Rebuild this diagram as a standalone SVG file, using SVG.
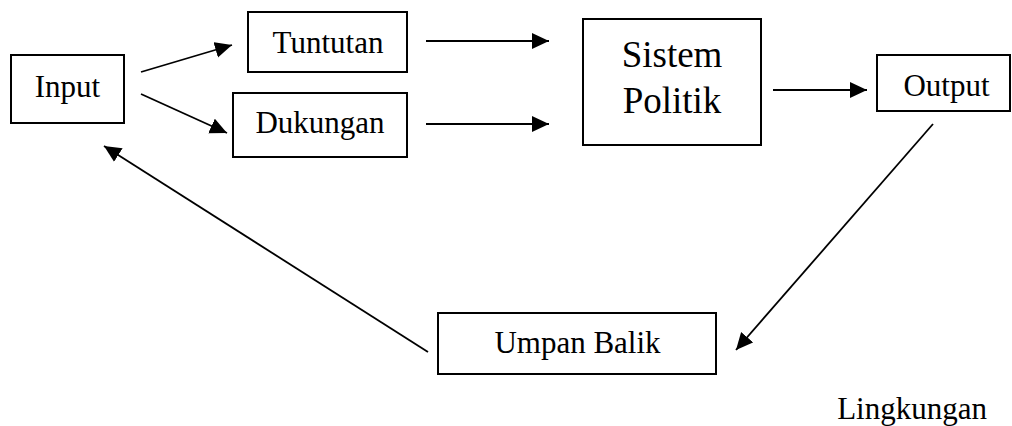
<svg xmlns="http://www.w3.org/2000/svg" width="1012" height="426" viewBox="0 0 1012 426">
<style>
.box{fill:#fff;stroke:#000;stroke-width:2}
.t{font-family:"Liberation Serif","Times New Roman",serif;font-size:31px;fill:#000;text-anchor:middle}
.big{font-size:37px}
.c{stroke:#000;stroke-width:1.8;fill:none;marker-end:url(#ah)}
</style>
<defs>
<marker id="ah" markerUnits="userSpaceOnUse" markerWidth="18" markerHeight="17" refX="17" refY="8" orient="auto" viewBox="0 0 18 17">
<path d="M0,0 L17,8 L0,16 Z" fill="#000"/>
</marker>
</defs>
<rect width="1012" height="426" fill="#fff"/>
<g id="connectors">
<line class="c" x1="141" y1="72" x2="232" y2="45"/>
<line class="c" x1="141" y1="94" x2="227" y2="133"/>
<line class="c" x1="426" y1="41" x2="549" y2="41"/>
<line class="c" x1="426" y1="124" x2="549" y2="124"/>
<line class="c" x1="773" y1="90" x2="867" y2="90"/>
<line class="c" x1="933" y1="124" x2="736" y2="350"/>
<line class="c" x1="428" y1="352" x2="104" y2="146"/>
</g>
<g id="input">
<rect class="box" x="11" y="55" width="113" height="68"/>
<text class="t" x="67.5" y="97">Input</text>
</g>
<g id="tuntutan">
<rect class="box" x="248" y="12" width="159" height="60"/>
<text class="t" x="328" y="53">Tuntutan</text>
</g>
<g id="dukungan">
<rect class="box" x="233" y="93" width="174" height="64"/>
<text class="t" x="320" y="133">Dukungan</text>
</g>
<g id="sistem-politik">
<rect class="box" x="583" y="19" width="178" height="126"/>
<text class="t big" x="672" y="67">Sistem</text>
<text class="t big" x="672" y="113">Politik</text>
</g>
<g id="output">
<rect class="box" x="877" y="55" width="133" height="56"/>
<text class="t" x="946.5" y="96">Output</text>
</g>
<g id="umpan-balik">
<rect class="box" x="438" y="313" width="278" height="61"/>
<text class="t" x="577.5" y="353">Umpan Balik</text>
</g>
<g id="lingkungan">
<text class="t" x="987" y="419" style="text-anchor:end">Lingkungan</text>
</g>
</svg>
